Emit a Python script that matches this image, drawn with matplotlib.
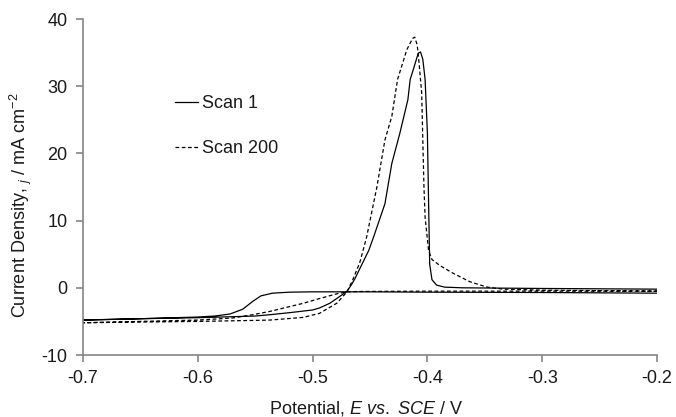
import matplotlib
matplotlib.use("Agg")
import matplotlib.pyplot as plt

plt.rcParams['font.family'] = ['Liberation Sans', 'DejaVu Sans']
plt.rcParams['mathtext.fontset'] = 'custom'
plt.rcParams['mathtext.rm'] = 'Liberation Sans'
plt.rcParams['mathtext.it'] = 'Liberation Sans:italic'
plt.rcParams['axes.unicode_minus'] = False

# Scan 1: cathodic sweep (-0.2 -> -0.7) then anodic sweep (-0.7 -> -0.2)
scan1_E = [-0.20, -0.30, -0.40, -0.45, -0.50, -0.52, -0.535, -0.545, -0.552, -0.561,
           -0.572, -0.585, -0.60, -0.65, -0.70,
           -0.65, -0.60, -0.55, -0.537, -0.52, -0.50, -0.494, -0.485, -0.479, -0.474,
           -0.470, -0.466, -0.463, -0.457, -0.451, -0.447, -0.442, -0.437, -0.434, -0.431,
           -0.424, -0.417, -0.415, -0.411, -0.408, -0.406, -0.404, -0.402, -0.400, -0.399,
           -0.398, -0.396, -0.392, -0.385, -0.37, -0.30, -0.20]
scan1_j = [-0.8, -0.7, -0.65, -0.6, -0.6, -0.65, -0.8, -1.2, -2.0, -3.2,
           -3.9, -4.2, -4.35, -4.6, -4.8,
           -4.6, -4.45, -4.2, -4.0, -3.7, -3.3, -3.0, -2.3, -1.6, -1.0,
           -0.5, 0.5, 1.4, 3.5, 5.6, 7.5, 10.0, 12.5, 15.5, 18.5,
           23.0, 28.0, 31.0, 33.2, 34.9, 35.1, 34.0, 31.0, 23.0, 13.0,
           3.5, 1.2, 0.4, 0.1, 0.0, -0.1, -0.2]

# Scan 200
scan200_E = [-0.20, -0.30, -0.40, -0.46, -0.47, -0.479, -0.494, -0.508, -0.52, -0.537,
             -0.552, -0.57, -0.60, -0.65, -0.70,
             -0.60, -0.55, -0.537, -0.508, -0.494, -0.479, -0.470, -0.465, -0.459, -0.453,
             -0.444, -0.437, -0.431, -0.426, -0.418, -0.413, -0.411, -0.409, -0.408, -0.405,
             -0.404, -0.403, -0.402, -0.399, -0.396, -0.389, -0.378, -0.363, -0.348, -0.334,
             -0.30, -0.20]
scan200_j = [-0.5, -0.5, -0.5, -0.55, -0.6, -0.9, -1.6, -2.3, -2.8, -3.5,
             -4.0, -4.5, -4.8, -5.0, -5.2,
             -5.0, -4.85, -4.8, -4.4, -3.8, -2.3, -0.6, 1.2, 3.7, 7.5,
             15.0, 22.0, 25.5, 31.0, 35.4, 37.1, 37.3, 36.2, 34.9, 29.0,
             22.0, 15.0, 10.5, 5.6, 4.2, 3.3, 2.2, 0.9, 0.1, -0.2,
             -0.35, -0.5]

x_ticks = [-0.7, -0.6, -0.5, -0.4, -0.3, -0.2]
y_ticks = [-10, 0, 10, 20, 30, 40]
series_labels = ["Scan 1", "Scan 200"]

FS = 13
txt_col = '#1a1a1a'

fig = plt.figure(figsize=(6.76, 4.17), dpi=100)
ax = fig.add_axes([83/676, 1-355/417, (657-83)/676, (355-19)/417])

ax.plot(scan1_E, scan1_j, color='black', lw=0.9, label=series_labels[0])
ax.plot(scan200_E, scan200_j, color='black', lw=0.9, linestyle=(0, (3, 2)), label=series_labels[1])

ax.set_xlim(-0.7, -0.2)
ax.set_ylim(-10, 40)
ax.set_xticks(x_ticks)
ax.set_yticks(y_ticks)
ax.set_xticklabels([f"{v:.1f}" for v in x_ticks])
ax.set_yticklabels([str(v) for v in y_ticks])

spine_col = '#858585'
for s in ['top', 'right']:
    ax.spines[s].set_visible(False)
for s in ['left', 'bottom']:
    ax.spines[s].set_color(spine_col)
    ax.spines[s].set_linewidth(1.2)
ax.tick_params(axis='both', direction='out', length=5, width=1.2, color=spine_col,
               labelsize=FS, labelcolor=txt_col, pad=6)

fig.text(366/676, 1-413/417, r"Potential, $\mathit{E}$ $\mathit{vs.}$ $\mathit{SCE}$ / V",
         fontsize=FS, color=txt_col, ha='center', va='baseline')
fig.text(21/676, 1-205/417, r"Current Density, $_{\mathit{j}}$ / mA cm$^{-2}$",
         fontsize=FS, color=txt_col, ha='center', va='center', rotation=90)

leg = ax.legend(loc='upper left', bbox_to_anchor=(175/676, 1-95/417), bbox_transform=fig.transFigure,
                frameon=False, fontsize=FS, handlelength=1.3, handletextpad=0.22,
                labelspacing=1.55, borderpad=0, borderaxespad=0)
for t in leg.get_texts():
    t.set_color(txt_col)

fig.savefig("out.png", dpi=100)
